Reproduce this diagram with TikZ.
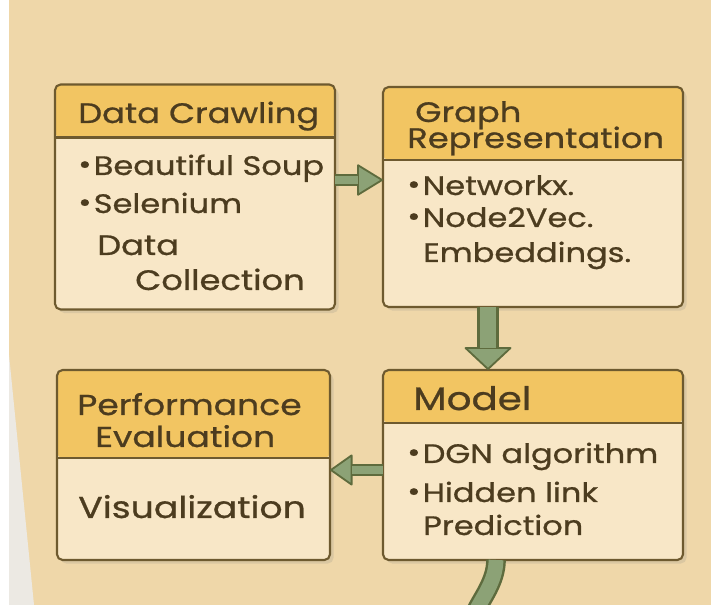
\documentclass[tikz,border=0pt]{standalone}
\usepackage{fontspec}
\setmainfont{Poppins}[FakeStretch=1.2, FakeBold=0.8]
\usetikzlibrary{arrows.meta,shadows}

\definecolor{paper}{HTML}{EFD7A9}
\definecolor{wash}{HTML}{ECE9E3}
\definecolor{cardhead}{HTML}{F2C562}
\definecolor{cardbody}{HTML}{F8E7C7}
\definecolor{cardline}{HTML}{6E5A2F}
\definecolor{ink}{HTML}{4C3C1F}
\definecolor{leaf}{HTML}{8CA276}
\definecolor{leafline}{HTML}{5E6B3D}

\newcommand{\px}{0.025cm}
\newcommand{\bul}{\makebox[11pt][l]{\raisebox{.1ex}{•}}}

\tikzset{
  card/.style={draw=cardline, line width=1.5pt, fill=cardbody, rounded corners=4pt,
    inner sep=0pt, outer sep=0pt,
    drop shadow={opacity=.18, shadow xshift=2.5pt, shadow yshift=-2.5pt},
    path picture={
      \fill[cardhead] (path picture bounding box.north west) rectangle ([yshift=-#1]path picture bounding box.north east);
      \draw[cardline, line width=1.5pt] ([yshift=-#1]path picture bounding box.north west) -- ([yshift=-#1]path picture bounding box.north east);}},
  txt/.style={anchor=base west, inner sep=0pt, text=ink, font=\fontsize{#1}{#1}\selectfont},
  flowout/.style n args={3}{draw=leafline, line width=#1,
    -{Triangle[width=#2, length=#3, fill=leaf, line width=1.3pt, round]}},
  flowin/.style 2 args={draw=leaf, line width=#1, shorten >=#2}
}

\begin{document}
\begin{tikzpicture}[x=0.025cm, y=0.025cm]
\useasboundingbox (0,0) rectangle (711,605);
\fill[paper] (0,0) rectangle (711,605);
\fill[white] (0,0) rectangle (9,605);
\fill[wash] (9,0) -- (9,250) -- (34,0) -- cycle;

% the four cards
\node[card=53*\px, minimum width=280*\px, minimum height=225*\px] (crawl) at (195,408) {};
\node[card=73*\px, minimum width=300*\px, minimum height=220*\px] (graph) at (533,408) {};
\node[card=88*\px, minimum width=273*\px, minimum height=190*\px] (perf) at (193.5,140) {};
\node[card=53*\px, minimum width=300*\px, minimum height=190*\px] (model) at (533,140) {};

% texts
\node[txt=20] (crawlhead) at (78,482) {Data Crawling};
\node[txt=19] (crawl1) at (78,430) {\bul Beautiful Soup};
\node[txt=19] (crawl2) at (78,392) {\bul Selenium};
\node[txt=20] (crawl3) at (97,350) {Data};
\node[txt=20] (crawl4) at (135,315) {Collection};

\node[txt=20] (graphhead1) at (415,483) {Graph};
\node[txt=20] (graphhead2) at (407,457) {Representation};
\node[txt=19] (graph1) at (407,410) {\bul Networkx.};
\node[txt=19] (graph2) at (407,378) {\bul Node2Vec.};
\node[txt=19] (graph3) at (423,343) {Embeddings.};

\node[txt=20.5] (perfhead1) at (77,190) {Performance};
\node[txt=20.5] (perfhead2) at (95,158) {Evaluation};
\node[txt=21.5] (perf1) at (78,87) {Visualization};

\node[txt=23] (modelhead) at (413,195) {Model};
\node[txt=19] (model1) at (407,142) {\bul DGN algorithm};
\node[txt=19] (model2) at (407,103) {\bul Hidden link};
\node[txt=19] (model3) at (423,70) {Prediction};

% flow arrows
\draw[flowout={8.5pt}{23pt}{19pt}] ([yshift=17*\px]crawl.east) -- ([yshift=17*\px]graph.west);
\draw[flowin={5.6pt}{18pt}] ([yshift=17*\px]crawl.east) -- ([yshift=17*\px]graph.west);
\draw[flowout={15.6pt}{35pt}{16.5pt}] ([xshift=-45*\px]graph.south) -- ([xshift=-45*\px]model.north);
\draw[flowin={12pt}{15.5pt}] ([xshift=-45*\px]graph.south) -- ([xshift=-45*\px]model.north);
\draw[flowout={9pt}{23pt}{16.5pt}] ([yshift=-5*\px]model.west) -- ([yshift=-5*\px]perf.east);
\draw[flowin={6pt}{15.5pt}] ([yshift=-5*\px]model.west) -- ([yshift=-5*\px]perf.east);

\coordinate (tail) at (475,-8);
\draw[leafline, line width=14pt] ([xshift=-37*\px]model.south) .. controls +(0,-22) and +(6,14) .. (tail);
\draw[leaf, line width=10.5pt] ([xshift=-37*\px]model.south) .. controls +(0,-22) and +(6,14) .. (tail);
\end{tikzpicture}
\end{document}
